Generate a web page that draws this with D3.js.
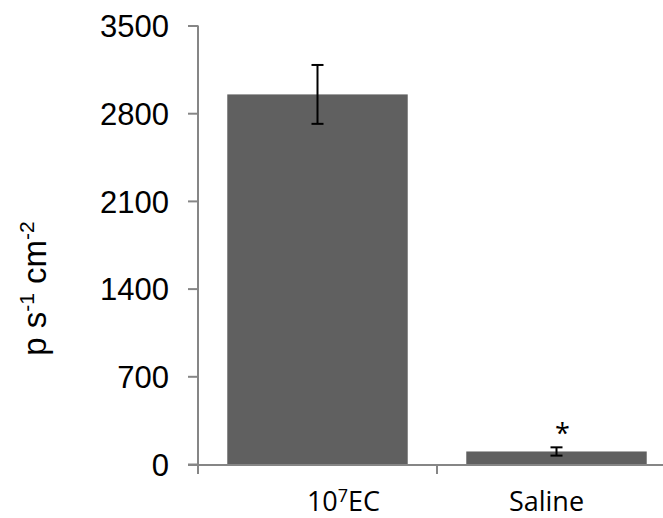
<!DOCTYPE html>
<html>
<head>
<meta charset="utf-8">
<script src="https://cdn.jsdelivr.net/npm/d3@7"></script>
<style>
  html, body { margin: 0; padding: 0; background: #fff; }
  svg { display: block; }
</style>
</head>
<body>
<svg id="chart" width="663" height="518"></svg>
<script>
// ---- data ----
const categories = ["10^7EC", "Saline"];
const values = [2950, 100];
const errors = [235, 33];
const significance = ["", "*"];
const yTicks = [0, 700, 1400, 2100, 2800, 3500];

// ---- layout ----
const svg = d3.select("#chart");
const x0 = 198, x1 = 676, yBottom = 464, yTop = 25.5;
const axisColor = "#868686";

const x = d3.scaleBand().domain(categories).range([x0, x1]).paddingInner(0.245).paddingOuter(0.1225);
const y = d3.scaleLinear().domain([0, 3500]).range([yBottom, yTop]);

// bars
svg.selectAll("rect.bar").data(categories).enter().append("rect")
  .attr("class", "bar")
  .attr("x", d => x(d))
  .attr("width", x.bandwidth())
  .attr("y", (d, i) => y(values[i]))
  .attr("height", (d, i) => y(0) - y(values[i]))
  .attr("fill", "#606060");

// y axis
const yAxis = d3.axisLeft(y).tickValues(yTicks).tickSize(10).tickPadding(19).tickFormat(d3.format("d"));
const gy = svg.append("g").attr("transform", `translate(${x0},0)`).call(yAxis);
gy.select(".domain").remove();
gy.selectAll(".tick line").attr("stroke", axisColor).attr("stroke-width", 2);
gy.selectAll(".tick text").attr("fill", "#000").style("font-family", "'Liberation Sans', Arial, sans-serif").style("font-size", "31px").attr("dy", "0.36em");
svg.append("line").attr("x1", x0).attr("x2", x0).attr("y1", y(3500)).attr("y2", yBottom + 10)
  .attr("stroke", axisColor).attr("stroke-width", 2);

// x axis
svg.append("line").attr("x1", x0 - 10).attr("x2", x1).attr("y1", yBottom + 1).attr("y2", yBottom + 1)
  .attr("stroke", axisColor).attr("stroke-width", 2);
const bTicks = [x0, ...categories.map(c => x(c) + x.bandwidth() + x.step() * x.paddingInner() / 2)];
svg.selectAll("line.xtick").data(bTicks).enter().append("line")
  .attr("class", "xtick")
  .attr("x1", d => d).attr("x2", d => d)
  .attr("y1", yBottom).attr("y2", yBottom + 10)
  .attr("stroke", axisColor).attr("stroke-width", 2);

// error bars
const capW = 12;
categories.forEach((c, i) => {
  const cx = x(c) + x.bandwidth() / 2;
  const g = svg.append("g").attr("stroke", "#000").attr("stroke-width", 2);
  g.append("line").attr("x1", cx).attr("x2", cx).attr("y1", y(values[i] + errors[i])).attr("y2", y(values[i] - errors[i]));
  g.append("line").attr("x1", cx - capW / 2).attr("x2", cx + capW / 2).attr("y1", y(values[i] + errors[i])).attr("y2", y(values[i] + errors[i]));
  g.append("line").attr("x1", cx - capW / 2).attr("x2", cx + capW / 2).attr("y1", y(values[i] - errors[i])).attr("y2", y(values[i] - errors[i]));
  if (significance[i]) {
    svg.append("text").attr("x", cx + 6).attr("y", y(values[i] + errors[i]) - 4)
      .attr("text-anchor", "middle")
      .style("font-family", "'Open Sans', sans-serif").style("font-size", "27px")
      .text(significance[i]);
  }
});

// x labels
const labelDx = [26, -10];
categories.forEach((c, i) => {
  const t = svg.append("text")
    .attr("x", x(c) + x.bandwidth() / 2 + labelDx[i])
    .attr("y", 511)
    .attr("text-anchor", "middle")
    .style("font-family", "'Open Sans', sans-serif")
    .style("font-size", "27px")
    .attr("fill", "#000");
  if (c.includes("^")) {
    const [base, rest] = c.split("^");
    t.append("tspan").text(base);
    t.append("tspan").attr("dy", -9).style("font-size", "18px").text(rest[0]);
    t.append("tspan").attr("dy", 9).text(rest.slice(1));
  } else {
    t.text(c);
  }
});

// y label
const yl = svg.append("text")
  .attr("transform", "translate(46,288.5) rotate(-90)")
  .attr("text-anchor", "middle")
  .style("font-family", "'Liberation Sans', Arial, sans-serif")
  .style("font-size", "33px")
  .attr("fill", "#000");
yl.append("tspan").text("p s");
yl.append("tspan").attr("dy", -12).style("font-size", "21px").text("-1");
yl.append("tspan").attr("dy", 12).text(" cm");
yl.append("tspan").attr("dy", -12).style("font-size", "21px").text("-2");
</script>
</body>
</html>
